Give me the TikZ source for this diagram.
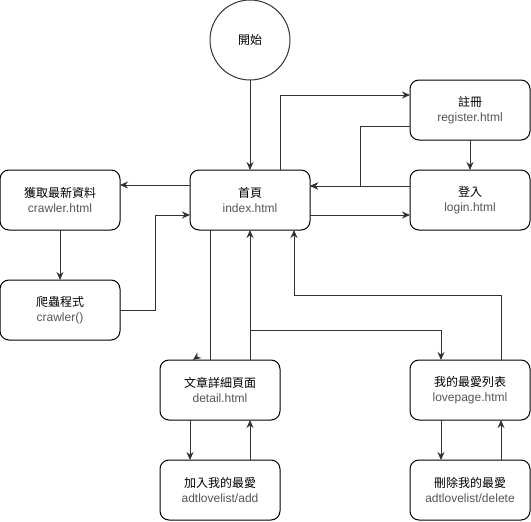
\documentclass[tikz,border=0pt]{standalone}
\usepackage{fontspec}
\setmainfont{Liberation Sans}
\newfontfamily\cjk{Noto Sans CJK TC}
\usetikzlibrary{arrows.meta,calc}
\definecolor{subtxt}{HTML}{555555}
\definecolor{edge}{HTML}{333333}
\begin{document}
\begin{tikzpicture}[x=1pt,y=-1pt,
  box/.style={draw=black,line width=1pt,rounded corners=9pt,minimum width=120pt,minimum height=60pt,inner sep=0pt,outer sep=0pt,align=center,font=\fontsize{12pt}{15pt}\selectfont},
  startc/.style={draw=edge,line width=1pt,circle,minimum size=80pt,inner sep=0pt,outer sep=0pt,font=\cjk\fontsize{12pt}{15pt}\selectfont},
  arr/.style={draw=edge,line width=1pt,-{Stealth[length=8pt,width=7pt]}},
  ln/.style={draw=edge,line width=1pt}]
\useasboundingbox (0,0) rectangle (531,522);
\newcommand{\twoline}[2]{{\cjk #1}\\{\color{subtxt}#2}}
\node[startc] (start) at (250,40) {開始};
\node[box] (idx) at (250,200) {\twoline{首頁}{index.html}};
\node[box] (reg) at (470,110) {\twoline{註冊}{register.html}};
\node[box] (login) at (470,200) {\twoline{登入}{login.html}};
\node[box] (crawl) at (60,200) {\twoline{獲取最新資料}{crawler.html}};
\node[box] (crawlf) at (60,310) {\twoline{爬蟲程式}{crawler()}};
\node[box] (det) at (220,390) {\twoline{文章詳細頁面}{detail.html}};
\node[box] (love) at (470,390) {\twoline{我的最愛列表}{lovepage.html}};
\node[box] (add) at (220,490) {\twoline{加入我的最愛}{adtlovelist/add}};
\node[box] (del) at (470,490) {\twoline{刪除我的最愛}{adtlovelist/delete}};
% start -> index
\draw[arr] (start.south) -- (idx.north);
% index -> register
\draw[arr] ($(idx.north west)+(90,0)$) |- ($(reg.north west)+(0,15)$);
% register -> index
\draw[arr] ($(reg.west)+(0,16)$) -- ++(-50,0) |- ($(idx.east)+(0,-14)$);
% login -> index
\draw[arr] ($(login.west)+(0,-14)$) -- ($(idx.east)+(0,-14)$);
% index -> login
\draw[arr] ($(idx.east)+(0,15)$) -- ($(login.west)+(0,15)$);
% register -> login
\draw[arr] (reg.south) -- (login.north);
% index -> crawler.html
\draw[arr] ($(idx.west)+(0,-15)$) -- ($(crawl.east)+(0,-15)$);
% crawler.html -> crawler()
\draw[arr] (crawl.south) -- (crawlf.north);
% crawler() -> index
\draw[arr] (crawlf.east) -- ++(35,0) |- ($(idx.west)+(0,15)$);
% index -> detail
\draw[ln] ($(idx.south west)+(20,0)$) -- ($(det.north west)+(50,0)$);
\draw[arr] ($(det.north west)+(37,-3)$) -- ($(det.north west)+(33,0)$);
% detail -> index
\draw[arr] ($(det.north west)+(90,0)$) -- (idx.south);
% index -> lovepage
\draw[arr] ($(idx.south)+(0,100)$) -| ($(love.north west)+(31,0)$);
% lovepage -> index
\draw[arr] ($(love.north east)+(-29,0)$) -- ++(0,-65) -| ($(idx.south)+(44,0)$);
% detail <-> add
\draw[arr] ($(det.south west)+(30,0)$) -- ($(add.north west)+(30,0)$);
\draw[arr] ($(add.north west)+(90,0)$) -- ($(det.south west)+(90,0)$);
% lovepage <-> delete
\draw[arr] ($(love.south west)+(31,0)$) -- ($(del.north west)+(31,0)$);
\draw[arr] ($(del.north east)+(-29,0)$) -- ($(love.south east)+(-29,0)$);
\end{tikzpicture}
\end{document}
